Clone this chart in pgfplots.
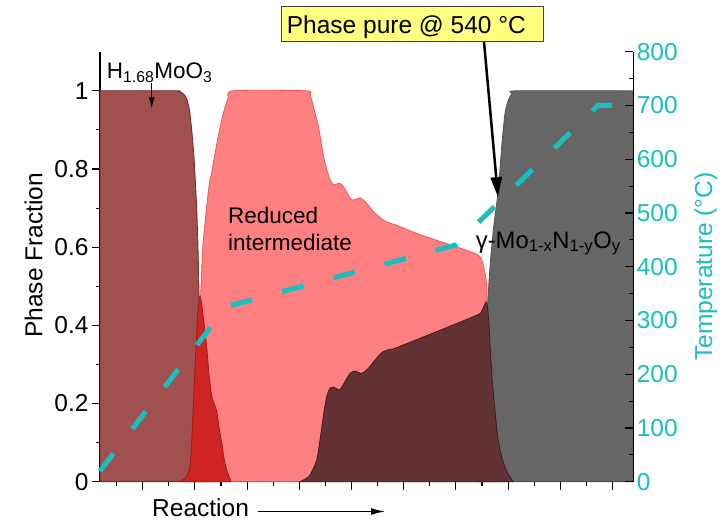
\documentclass[border=0pt]{standalone}
\usepackage{fontspec}
\setmainfont{Liberation Sans}
\usepackage{pgfplots}
\pgfplotsset{compat=1.18}
\usetikzlibrary{arrows.meta}

\definecolor{cH}{RGB}{161,80,80}
\definecolor{cHedge}{RGB}{110,40,40}
\definecolor{cRed}{RGB}{207,36,36}
\definecolor{cRededge}{RGB}{170,20,20}
\definecolor{cSal}{RGB}{255,128,128}
\definecolor{cSaledge}{RGB}{240,85,85}
\definecolor{cDk}{RGB}{99,50,52}
\definecolor{cDkedge}{RGB}{60,28,30}
\definecolor{cGray}{RGB}{102,102,102}
\definecolor{cGrayedge}{RGB}{85,85,85}
\definecolor{cTemp}{RGB}{25,190,190}
\definecolor{cBox}{RGB}{255,255,128}

\newcommand\bigfont{\fontsize{24.5}{29}\selectfont}
\newcommand\midfont{\fontsize{22.5}{27}\selectfont}
\newcommand\gamfont{\fontsize{23.8}{28}\selectfont}

\pgfplotsset{
  every tick label/.append style={font=\bigfont},
  /pgf/number format/assume math mode=true,
  every tick/.style={black, line width=1.1pt},
}

\begin{document}
\begin{tikzpicture}
% phase fractions along the reaction coordinate
\begin{axis}[
  at={(0,0)}, anchor=south west,
  scale only axis, width=533.3pt, height=430pt,
  xmin=0, xmax=533.3, ymin=0, ymax=1.1,
  axis x line=bottom, axis y line=left,
  axis line style={-, line width=1.1pt},
  tick align=outside,
  major tick length=8pt, minor tick length=4pt,
  xtick={42.7,94.9,147.1,199.3,251.5,303.7,355.9,408.1,460.3,512.5},
  minor xtick={16.6,68.8,121,173.2,225.4,277.6,329.8,382,434.2,486.4},
  xticklabels={},
  ytick={0,0.2,0.4,0.6,0.8,1},
  minor ytick={0.1,0.3,0.5,0.7,0.9},
  clip=false,
]
% H1.68MoO3
\addplot[smooth, tension=0.4, fill=cH, draw=cHedge, line width=0.8pt] coordinates {
 (0,1) (75,1) (79,0.998) (83,0.993) (86.7,0.98) (89.5,0.95) (91.7,0.9)
 (94,0.83) (96.7,0.70) (98.2,0.58) (99.3,0.45) (101,0.28) (103,0.1)
 (105,0.02) (108,0)} \closedcycle;
% reduced intermediate
\addplot[smooth, tension=0.4, fill=cSal, draw=cSaledge, line width=0.8pt] coordinates {
 (96,0) (98.5,0.25) (100.3,0.45) (102.8,0.6) (106.5,0.7) (109.5,0.765) (111.7,0.79)
 (114,0.825) (118,0.88) (123,0.94) (128,0.98) (133,1.0) (206,1.0)
 (210,0.99) (213.3,0.96) (218.3,0.91) (221.7,0.858) (225,0.815) (230,0.772)
 (233.3,0.759) (237,0.762) (240,0.763) (243.3,0.755) (250,0.726)
 (253.3,0.72) (257,0.724) (260,0.726) (265,0.717) (273.3,0.691)
 (283.3,0.669) (290,0.661) (296.7,0.656) (316.7,0.635) (355,0.602)
 (376.7,0.582) (381.7,0.568) (385,0.533) (386.7,0.5) (388,0.4)
 (389.5,0.2) (391,0)} \closedcycle;
% short-lived red phase
\addplot[smooth, tension=0.4, fill=cRed, draw=cRededge, line width=0.8pt] coordinates {
 (80,0) (86,0.012) (90,0.04) (92,0.12) (95,0.29) (98,0.44) (100,0.475)
 (102,0.45) (104,0.405) (106.7,0.345) (109,0.275) (111.7,0.22)
 (113.3,0.205) (116.7,0.18) (119,0.14) (121.7,0.1) (124,0.06)
 (126.7,0.03) (131,0)} \closedcycle;
% gamma-Mo(1-x)N(1-y)O(y)
\addplot[smooth, tension=0.4, fill=cGray, draw=cGrayedge, line width=0.8pt] coordinates {
 (376,0) (380,0.05) (383,0.15) (385.5,0.3) (387.3,0.42) (388.3,0.482)
 (390,0.55) (393.3,0.644) (398.3,0.747) (401.7,0.858) (405,0.943)
 (408.3,0.976) (412,0.993) (417,1.0) (533.3,1.0)} \closedcycle;
% second product
\addplot[smooth, tension=0.4, fill=cDk, draw=cDkedge, line width=0.8pt] coordinates {
 (200,0) (203.3,0.004) (210,0.017) (216.7,0.055) (220,0.107) (223.3,0.167)
 (226.7,0.218) (230,0.239) (233.3,0.242) (236.5,0.238) (240,0.235)
 (245,0.256) (250,0.277) (255,0.283) (261.7,0.277) (268.3,0.29)
 (275,0.311) (281.7,0.33) (290,0.339) (296.7,0.343) (375,0.424)
 (381.7,0.437) (384.5,0.452) (386.3,0.46) (387.8,0.44) (389,0.40)
 (390.5,0.33) (392.5,0.25) (395,0.18) (398,0.11) (402,0.06)
 (407,0.025) (413,0)} \closedcycle;

\node[font=\bigfont, rotate=90, anchor=base] at (axis cs:-57.5,0.579) {Phase Fraction};
\node[font=\bigfont, anchor=base west, inner sep=0pt] at (axis cs:52,-0.0895) {Reaction};
\node[font=\midfont, anchor=base west, inner sep=0pt] at (axis cs:6.7,1.0317) {H\textsubscript{1.68}MoO\textsubscript{3}};
\node[font=\midfont, anchor=base west, inner sep=0pt] at (axis cs:128,0.661) {Reduced};
\node[font=\midfont, anchor=base west, inner sep=0pt] at (axis cs:128,0.5926) {intermediate};
\node[font=\gamfont, anchor=base west, inner sep=0pt] at (axis cs:375.7,0.5977) {γ-Mo\textsubscript{1-x}N\textsubscript{1-y}O\textsubscript{y}};

\coordinate (rxA) at (axis cs:158,-0.0762);
\coordinate (rxB) at (axis cs:285,-0.0762);
\coordinate (hA) at (axis cs:51.7,1.019);
\coordinate (hB) at (axis cs:51.7,0.955);
\coordinate (boxSW) at (axis cs:181.7,1.1253);
\coordinate (boxNE) at (axis cs:443.3,1.2166);
\coordinate (boxText) at (axis cs:186.7,1.1468);
\coordinate (pA) at (axis cs:384,1.1253);
\coordinate (pB) at (axis cs:398,0.728);
\coordinate (tLab) at (axis cs:612,0.5504);
\end{axis}

% temperature programme on the right axis
\begin{axis}[
  at={(0,0)}, anchor=south west,
  scale only axis, width=533.3pt, height=430pt,
  xmin=0, xmax=533.3, ymin=0, ymax=800,
  axis x line=none, axis y line=right,
  axis line style={-, line width=1.1pt},
  tick align=inside,
  major tick length=8pt, minor tick length=4pt,
  ytick={0,100,200,300,400,500,600,700,800},
  minor ytick={50,150,250,350,450,550,650,750},
  yticklabel style={text=cTemp},
  clip=false,
]
\addplot[cTemp, line width=5pt, dash pattern=on 22pt off 31pt] coordinates {
 (0,20) (126.7,326) (355,440) (498,700) (533.3,700)};
\end{axis}

\node[font=\bigfont, text=cTemp, rotate=90, anchor=base] at (tLab) {Temperature (°C)};
\draw[line width=1.3pt, -{Latex[length=14pt, width=7pt]}] (rxA) -- (rxB);
\draw[line width=1pt, -{Latex[length=11pt, width=6pt]}] (hA) -- (hB);
\draw[fill=cBox, draw=black!75, line width=1pt] (boxSW) rectangle (boxNE);
\node[font=\bigfont, anchor=base west, inner sep=0pt] at (boxText) {Phase pure @ 540 °C};
\draw[line width=2.5pt, -{Triangle[length=20pt, width=11pt]}] (pA) -- (pB);

\pgfresetboundingbox
\path[use as bounding box] (-100pt,-40.3pt) rectangle (627pt,481.7pt);
\end{tikzpicture}
\end{document}
